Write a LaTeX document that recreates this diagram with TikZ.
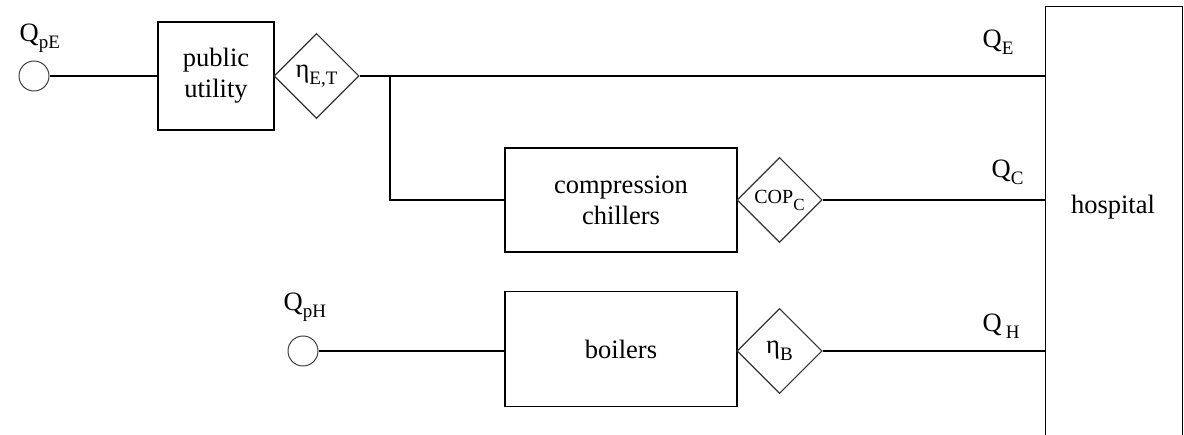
\documentclass[tikz,border=0pt]{standalone}
\usepackage{fontspec}
\setmainfont{Liberation Serif}
\usetikzlibrary{shapes.geometric}
% lowered, smaller subscript text
\newcommand\lowsub[2][19]{\raisebox{-7pt}{\fontsize{#1}{#1}\selectfont #2}}
\begin{document}
\begin{tikzpicture}[x=1pt, y=-1pt, line width=1.4pt,
  every node/.style={font=\fontsize{26.5}{31}\selectfont, inner sep=0pt},
  unit/.style={draw, align=center},
  gate/.style={draw=black!80, diamond, minimum width=85pt, minimum height=85pt, inner sep=0pt, line width=1.1pt},
  port/.style={draw=black!75, circle, minimum size=30pt, line width=1pt},
  qlabel/.style={anchor=base west}]
\useasboundingbox (0,0) rectangle (1184,435);

% plant units
\node[unit, minimum width=116pt, minimum height=108pt] (pu) at (216,76) {public\\utility};
\node[unit, minimum width=232pt, minimum height=104pt] (cc) at (621,200) {compression\\chillers};
\node[unit, minimum width=232pt, minimum height=115pt] (boil) at (621,349) {boilers};
\node[draw, minimum width=137pt, minimum height=450pt, anchor=north west] (hosp) at (1045,6) {};
\node (hosptxt) at (1113,207) {hospital};

% efficiencies
\node[gate] (et) at (316.5,76) {η\lowsub{E,T}};
\node[gate] (cop) at (779.5,200) {{\fontsize{20}{20}\selectfont COP}\lowsub[17]{C}};
\node[gate] (eb) at (779.5,351) {η\lowsub{B}};

% primary energy inputs
\node[port] (pE) at (34,76) {};
\node[port] (pH) at (303,351) {};

% connections
\coordinate (j) at (390,76);
\draw (pE) -- (pu);
\draw (et.east) -- (et.east -| hosp.west);
\draw (j) |- (cc.west);
\draw (cop.east) -- (cop.east -| hosp.west);
\draw (pH) -- (boil.west |- pH);
\draw (eb.east) -- (eb.east -| hosp.west);

% flow labels
\node[qlabel] (lpE) at (19,42) {Q\lowsub{pE}};
\node[qlabel] (lpH) at (283,311) {Q\lowsub{pH}};
\node[qlabel] (lE) at (982,48) {Q\lowsub{E}};
\node[qlabel] (lC) at (991,178) {Q\lowsub{C}};
\node[qlabel] (lH) at (982,332) {Q\kern4pt\lowsub{H}};
\end{tikzpicture}
\end{document}
